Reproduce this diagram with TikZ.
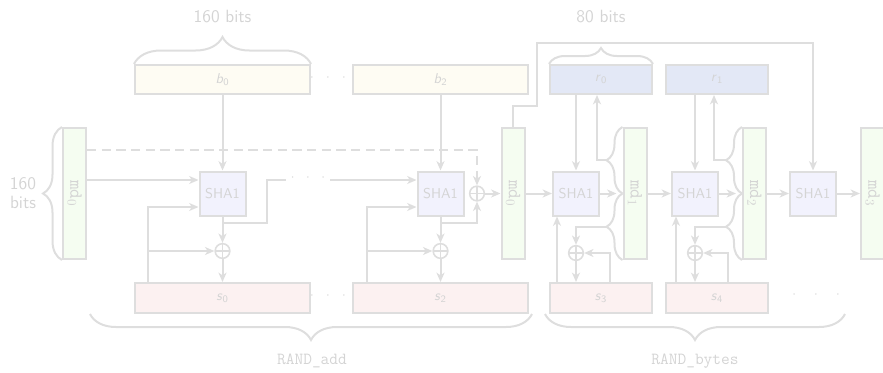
\documentclass[tikz,border=0pt]{standalone}
\usepackage{fontspec}
\usetikzlibrary{arrows.meta,decorations.pathreplacing,calc}
\definecolor{lg}{RGB}{222,222,222}
\definecolor{tg}{RGB}{212,212,212}
\definecolor{bfill}{RGB}{254,252,243}
\definecolor{rfill}{RGB}{227,232,246}
\definecolor{sfill}{RGB}{252,241,241}
\definecolor{mdfill}{RGB}{245,253,241}
\definecolor{shafill}{RGB}{242,242,253}
\tikzset{
  ln/.style={draw=lg, line width=1.5pt},
  arr/.style={ln, -{Stealth[length=7pt,width=6pt,inset=2pt]}},
  box/.style={draw=lg, line width=1.5pt, inner sep=0pt, text=tg},
  bbox/.style={box, fill=bfill, minimum width=131.25pt, minimum height=21.75pt},
  sbox/.style={box, fill=sfill, minimum width=131.25pt, minimum height=22.5pt},
  rbox/.style={box, fill=rfill, minimum width=76.5pt, minimum height=21.75pt},
  snbox/.style={box, fill=sfill, minimum width=76.5pt, minimum height=22.5pt},
  sha/.style={box, fill=shafill, minimum width=34.5pt, minimum height=33pt},
  md/.style={box, fill=mdfill, minimum width=17.25pt, minimum height=98.25pt,
    font=\ttfamily\fontsize{14}{15}\selectfont},
  xor/.style={circle, draw=lg, line width=1.2pt, minimum size=11pt, inner sep=0pt,
    path picture={\draw[lg, line width=1.2pt]
      (path picture bounding box.north) -- (path picture bounding box.south)
      (path picture bounding box.west) -- (path picture bounding box.east);}},
  brc/.style={draw=lg, line width=1.5pt, decorate, decoration={brace, amplitude=#1}},
  lbl/.style={text=tg, font=\sffamily\fontsize{13.3}{14.5}\selectfont},
  fname/.style={text=tg, font=\ttfamily\fontsize{12.7}{14}\selectfont},
  dots/.style={text=tg, inner sep=0pt, font=\rmfamily\fontsize{11}{12}\selectfont},
}
\newcommand{\mdlabel}[1]{\rotatebox{-90}{md\textsubscript{\rmfamily #1}}}
\newcommand{\blk}[2]{\textit{#1}\textsubscript{#2}}
\begin{document}
\begin{tikzpicture}[x=0.75pt, y=-0.75pt, font=\sffamily\fontsize{10.7}{12}\selectfont]
\useasboundingbox (0,0) rectangle (883,372);

% input blocks, state blocks
\node[bbox] (b0) at (222.5,79.5) {\blk{b}{0}};
\node[bbox] (b2) at (440.5,79.5) {\blk{b}{2}};
\node[rbox] (r0) at (601,79.5) {\blk{r}{0}};
\node[rbox] (r1) at (717,79.5) {\blk{r}{1}};
\node[sbox] (s0) at (222.5,298) {\blk{s}{0}};
\node[sbox] (s2) at (440.5,298) {\blk{s}{2}};
\node[snbox] (s3) at (601,298) {\blk{s}{3}};
\node[snbox] (s4) at (717,298) {\blk{s}{4}};

% hash units
\node[sha] (h1) at (222.5,193.5) {SHA1};
\node[sha] (h2) at (440.5,193.5) {SHA1};
\node[sha] (h3) at (576,193.5) {SHA1};
\node[sha] (h4) at (695,193.5) {SHA1};
\node[sha] (h5) at (813,193.5) {SHA1};

% message digests
\node[md] (m0) at (74.5,193.5) {\mdlabel{0}};
\node[md] (m0b) at (513,193.5) {\mdlabel{0}};
\node[md] (m1) at (635,193.5) {\mdlabel{1}};
\node[md] (m2) at (754.5,193.5) {\mdlabel{2}};
\node[md] (m3) at (872.5,193.5) {\mdlabel{3}};

% xor gates
\node[xor] (x1) at (222.5,251) {};
\node[xor] (x2) at (477,193.5) {};
\node[xor] (x3) at (440.5,251) {};
\node[xor] (x4) at (576,253) {};
\node[xor] (x5) at (695,253) {};

% ellipses
\node[dots] (dtop) at (328,79.5) {·\hspace{3.6pt}·\hspace{3.6pt}·};
\node[dots] (dbot) at (328,298) {·\hspace{3.6pt}·\hspace{3.6pt}·};
\node[dots] (dmid) at (308,180) {·\hspace{3pt}·\hspace{3pt}·};
\node[dots] (dend) at (816,297) {·\hspace{8pt}·\hspace{8pt}·};
\coordinate (cA) at (286,180);
\coordinate (cB) at (330,180);

% RAND_add, first round
\draw[arr] (b0.south) -- (h1.north);
\draw[arr] (m0.east |- 0,180) -- (h1.west |- 0,180);
\draw[arr] (s0.north -| 148,0) |- (h1.west |- 0,207);
\draw[arr] (s0.north -| 148,0) |- (x1.west);
\draw[arr] (h1.south) -- (x1.north);
\draw[arr] (x1.south) -- (s0.north);
\draw[ln] (h1.south |- 0,223) -| (267,180) -- (cA);

% RAND_add, last round
\draw[arr] (cB) -- (h2.west |- 0,180);
\draw[arr] (b2.south) -- (h2.north);
\draw[arr] (s2.north -| 367,0) |- (h2.west |- 0,207);
\draw[arr] (s2.north -| 367,0) |- (x3.west);
\draw[arr] (h2.south) -- (x3.north);
\draw[arr] (x3.south) -- (s2.north);
\draw[arr] (h2.south |- 0,223) -| (x2.south);
\draw[arr, dash pattern=on 7pt off 4pt] (m0.east |- 0,150) -| (x2.north);
\draw[arr] (x2.east) -- (m0b.west);

% RAND_bytes
\draw[arr] (m0b.east) -- (h3.west);
\draw[arr] (m0b.north) -- ++(0,-21) -| (537,43) -| (h5.north);

\draw[arr] (h3.north |- r0.south) -- (h3.north);
\draw[arr] (h3.east) -- ($(m1.west)+(-6,0)$);
\draw[arr] ($(m1.north west)!0.5!(m1.west)+(-16,0)$) -| (r0.south -| 597,0);
\draw[arr] ($(m1.west)!0.5!(m1.south west)+(-16,0)$) -| (x4.north);
\draw[arr] (s3.north -| 610,0) |- (x4.east);
\draw[arr] (x4.south) -- (x4.south |- s3.north);
\draw[arr] (s3.north -| 557,0) -- (h3.south -| 557,0);

\draw[arr] (m1.east) -- (h4.west);
\draw[arr] (h4.north |- r1.south) -- (h4.north);
\draw[arr] (h4.east) -- ($(m2.west)+(-6,0)$);
\draw[arr] ($(m2.north west)!0.5!(m2.west)+(-16,0)$) -| (r1.south -| 714,0);
\draw[arr] ($(m2.west)!0.5!(m2.south west)+(-16,0)$) -| (x5.north);
\draw[arr] (s4.north -| 728,0) |- (x5.east);
\draw[arr] (x5.south) -- (x5.south |- s4.north);
\draw[arr] (s4.north -| 676,0) -- (h4.south -| 676,0);

\draw[arr] (m2.east) -- (h5.west);
\draw[arr] (h5.east) -- (m3.west);

% braces and sizes
\draw[brc=20.25pt] (b0.north west) -- (b0.north east);
\node[lbl] (t160) at (222.5,17) {160 bits};
\draw[brc=12pt] (r0.north west) -- (r0.north east);
\node[lbl] (t80) at (601,17) {80 bits};
\draw[brc=14.25pt] (m0.south west) -- (m0.north west);
\node[lbl, align=center] (t160b) at (23,193) {160\\bits};
\draw[brc=12pt] (m1.west) -- (m1.north west);
\draw[brc=12pt] (m1.south west) -- (m1.west);
\draw[brc=12pt] (m2.west) -- (m2.north west);
\draw[brc=12pt] (m2.south west) -- (m2.west);
\draw[brc=19.5pt] (532,314) -- (90,314);
\node[fname] (tadd) at (312,361) {RAND\_add};
\draw[brc=19.5pt] (845,314) -- (545,314);
\node[fname] (tbytes) at (695,361) {RAND\_bytes};
\end{tikzpicture}
\end{document}
